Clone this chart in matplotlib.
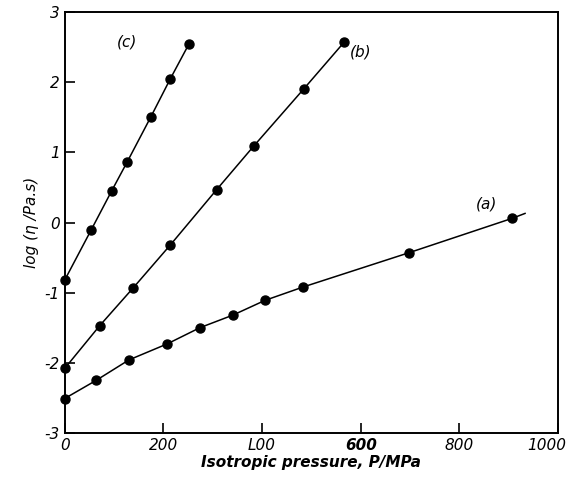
import matplotlib.pyplot as plt
import matplotlib.ticker as ticker
from matplotlib.transforms import ScaledTranslation

# pressure (MPa) and log viscosity for the three curves
p_a = [0, 64, 130, 208, 274, 341, 406, 483, 698, 907]
eta_a = [-2.51, -2.25, -1.96, -1.73, -1.50, -1.32, -1.11, -0.92, -0.43, 0.06]
p_b = [0, 71, 139, 214, 308, 383, 485, 566]
eta_b = [-2.08, -1.47, -0.93, -0.32, 0.47, 1.09, 1.91, 2.57]
p_c = [0, 54, 95, 127, 174, 214, 252]
eta_c = [-0.82, -0.10, 0.45, 0.87, 1.50, 2.05, 2.55]

x_ticks = [0, 200, 400, 600, 800, 1000]
x_labels = ['0', '200', 'L00', '600', '800', '1000']
y_ticks = [-3, -2, -1, 0, 1, 2, 3]

fig = plt.figure(figsize=(5.73, 4.88), dpi=100)
ax = fig.add_axes([0.113, 0.113, 0.861, 0.862])

for px, py in [(p_a, eta_a), (p_b, eta_b), (p_c, eta_c)]:
    ax.plot(px, py, color='black', lw=1.1, marker='o', ms=6.5, clip_on=False)
# curve (a) runs on a little past its last point
ax.plot([p_a[-1], 933], [eta_a[-1], 0.13], color='black', lw=1.1)

ax.text(127, 2.57, '(c)', fontsize=11, style='italic', ha='center', va='center')
ax.text(600, 2.43, '(b)', fontsize=11, style='italic', ha='center', va='center')
ax.text(855, 0.26, '(a)', fontsize=11, style='italic', ha='center', va='center')

ax.set_xlim(0, 1000)
ax.set_ylim(-3, 3)
ax.set_xticks(x_ticks)
ax.set_xticklabels(x_labels)
ax.set_yticks(y_ticks)
ax.yaxis.set_major_formatter(ticker.FormatStrFormatter('%d'))
ax.tick_params(direction='in', length=7, width=1.2, labelsize=11)
for lab in ax.get_xticklabels() + ax.get_yticklabels():
    lab.set_style('italic')
ax.get_xticklabels()[3].set_weight('bold')
# pull "1000" in a bit so it stays inside the figure
last = ax.get_xticklabels()[-1]
last.set_transform(last.get_transform() + ScaledTranslation(-8 / 72, 0, fig.dpi_scale_trans))

for s in ax.spines.values():
    s.set_linewidth(1.4)

ax.set_xlabel('Isotropic pressure, P/MPa', fontsize=11, weight='bold', style='italic', labelpad=2)
ax.set_ylabel('log (η /Pa.s)', fontsize=11, style='italic', labelpad=4)

fig.savefig('out.png', dpi=100)
